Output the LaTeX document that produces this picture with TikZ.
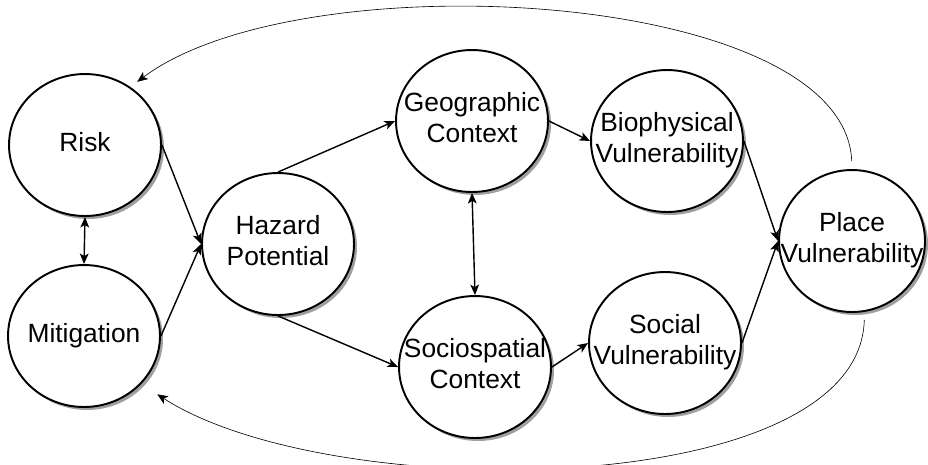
\documentclass[tikz,border=0pt]{standalone}
\usepackage{fontspec}
\setmainfont{Liberation Sans}
\usetikzlibrary{shapes.geometric,shadows,arrows.meta}
\newcommand{\lbl}[1]{\makebox[0pt]{\begin{tabular}{@{}c@{}}#1\end{tabular}}}
\tikzset{
  bubble/.style={ellipse, draw, line width=1.1pt, fill=white,
    minimum width=3.04cm, minimum height=2.84cm, inner sep=0pt,
    drop shadow={shadow xshift=0.06cm, shadow yshift=-0.06cm, fill=gray!75, opacity=1},
    font=\fontsize{15}{17.2}\selectfont},
  link/.style={line width=0.8pt, -{Stealth[length=6pt,width=5pt,inset=1.5pt]}},
  both/.style={line width=0.8pt, {Stealth[length=6pt,width=5pt,inset=1.5pt]}-{Stealth[length=6pt,width=5pt,inset=1.5pt]}},
  backlink/.style={line width=0.35pt, -{Stealth[length=6pt,width=5pt,inset=1.5pt]}}
}
\begin{document}
\begin{tikzpicture}[x=0.02cm,y=-0.02cm]
\useasboundingbox (0,0) rectangle (928,464);
\node[bubble] (risk) at (85,145) {\lbl{Risk}};
\node[bubble] (mitig) at (84,336) {\lbl{Mitigation}};
\node[bubble] (hazard) at (278,244) {\lbl{Hazard\\Potential}};
\node[bubble] (geo) at (472,121) {\lbl{Geographic\\Context}};
\node[bubble] (socio) at (475,367) {\lbl{Sociospatial\\Context}};
\node[bubble] (bio) at (667,141) {\lbl{Biophysical\\Vulnerability}};
\node[bubble] (social) at (665,343) {\lbl{Social\\Vulnerability}};
\node[bubble, minimum width=2.92cm] (place) at (852,241) {\lbl{Place\\Vulnerability}};
% straight links
\draw[link] (risk.east) -- (hazard.west);
\draw[link] (mitig.east) -- (hazard.west);
\draw[both] (risk.south) -- (mitig.north);
\draw[link] (hazard.north) -- (geo.west);
\draw[link] (hazard.south) -- (socio.west);
\draw[both] (geo.south) -- (socio.north);
\draw[link] (geo.east) -- (bio.west);
\draw[link] (socio.east) -- (social.west);
\draw[link] (bio.east) -- (place.west);
\draw[link] (social.east) -- (place.west);
% feedback curves
\draw[backlink, shorten <=0.16cm, shorten >=0.17cm] (place.north) .. controls +(-7,-180) and +(171,-128) .. (risk.52);
\draw[backlink, shorten <=0.16cm, shorten >=0.38cm] (place.-80) .. controls +(-5,189) and +(190,122) .. (mitig.-40);
\end{tikzpicture}
\end{document}
